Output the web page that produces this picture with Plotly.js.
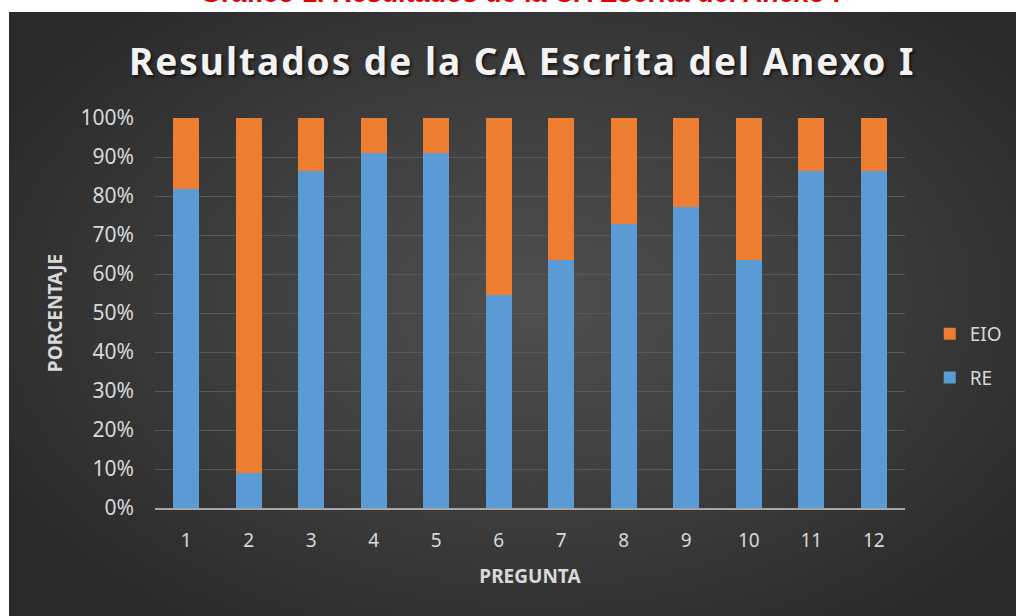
<!DOCTYPE html>
<html>
<head>
<meta charset="utf-8">
<script src="https://cdn.plot.ly/plotly-3.0.1.min.js"></script>
<style>
  html, body { margin:0; padding:0; background:#ffffff; width:1016px; height:616px; overflow:hidden; }
  #redtitle { position:absolute; left:0; top:-20px; width:1040px; text-align:center; line-height:27px;
    font-family:"Liberation Sans", Arial, sans-serif; font-weight:bold; font-size:27px; color:#e60000; white-space:nowrap; }
  #panel { position:absolute; left:9px; top:12px; width:1007px; height:604px;
    background: radial-gradient(ellipse 60% 65% at 52% 48%, #4f4f4f 0%, #3c3c3c 55%, #2a2a2a 100%); }
  #chart { position:absolute; left:0; top:0; width:1016px; height:616px; }
  #chart .gtitle { letter-spacing: 2px; text-shadow: 2px 2px 3px rgba(0,0,0,0.6); }
</style>
</head>
<body>
<div id="redtitle">Gráfico 1. Resultados de la CA Escrita del Anexo I</div>
<div id="panel"></div>
<div id="chart"></div>
<script>
const preguntas = ['1','2','3','4','5','6','7','8','9','10','11','12'];
const re  = [0.818, 0.091, 0.864, 0.909, 0.909, 0.545, 0.636, 0.727, 0.773, 0.636, 0.864, 0.864];
const eio = [0.182, 0.909, 0.136, 0.091, 0.091, 0.455, 0.364, 0.273, 0.227, 0.364, 0.136, 0.136];
const yTicks = [0,0.1,0.2,0.3,0.4,0.5,0.6,0.7,0.8,0.9,1.0];
const yTickText = ['0%','10%','20%','30%','40%','50%','60%','70%','80%','90%','100%'];

const fontFam = '"Noto Sans", "Open Sans", sans-serif';
const traces = [
  { type:'bar', name:'RE', x:preguntas, y:re, legendgroup:'a', legendrank:2,
    marker:{ color:'#5b9bd5' }, hoverinfo:'y' },
  { type:'bar', name:'EIO', x:preguntas, y:eio, legendgroup:'b', legendrank:1,
    marker:{ color:'#ed7d31' }, hoverinfo:'y' }
];
const layout = {
  width:1016, height:616,
  paper_bgcolor:'rgba(0,0,0,0)', plot_bgcolor:'rgba(0,0,0,0)',
  barmode:'stack', bargap:0.58,
  margin:{ l:155, r:111, t:118, b:108, autoexpand:false },
  title:{ text:'<b>Resultados de la CA Escrita del Anexo I</b>', x:0.514, xanchor:'center',
    yref:'container', y:0.9, yanchor:'middle',
    font:{ family:fontFam, size:37, color:'#f2f2f2' } },
  xaxis:{ type:'category', showgrid:false, showline:true, linecolor:'#a6a6a6', linewidth:2,
    ticks:'', ticklabelstandoff:14, tickfont:{ family:fontFam, size:19, color:'#d9d9d9' },
    title:{ text:'<b>PREGUNTA</b>', font:{ family:fontFam, size:19, color:'#d9d9d9' }, standoff:18 } },
  yaxis:{ range:[0,1], tickvals:yTicks, ticktext:yTickText, showgrid:true, gridcolor:'#595959', gridwidth:1,
    zeroline:false, showline:false, ticks:'', ticklabelstandoff:20,
    tickfont:{ family:fontFam, size:21, color:'#d9d9d9' },
    title:{ text:'<b>PORCENTAJE</b>', font:{ family:fontFam, size:19, color:'#d9d9d9' }, standoff:12 } },
  legend:{ x:1.033, xanchor:'left', y:0.39, yanchor:'middle', traceorder:'grouped', tracegroupgap:16,
    font:{ family:fontFam, size:19, color:'#d9d9d9' }, bgcolor:'rgba(0,0,0,0)' },
  showlegend:true
};
Plotly.newPlot('chart', traces, layout, { displayModeBar:false, staticPlot:true });
</script>
</body>
</html>
